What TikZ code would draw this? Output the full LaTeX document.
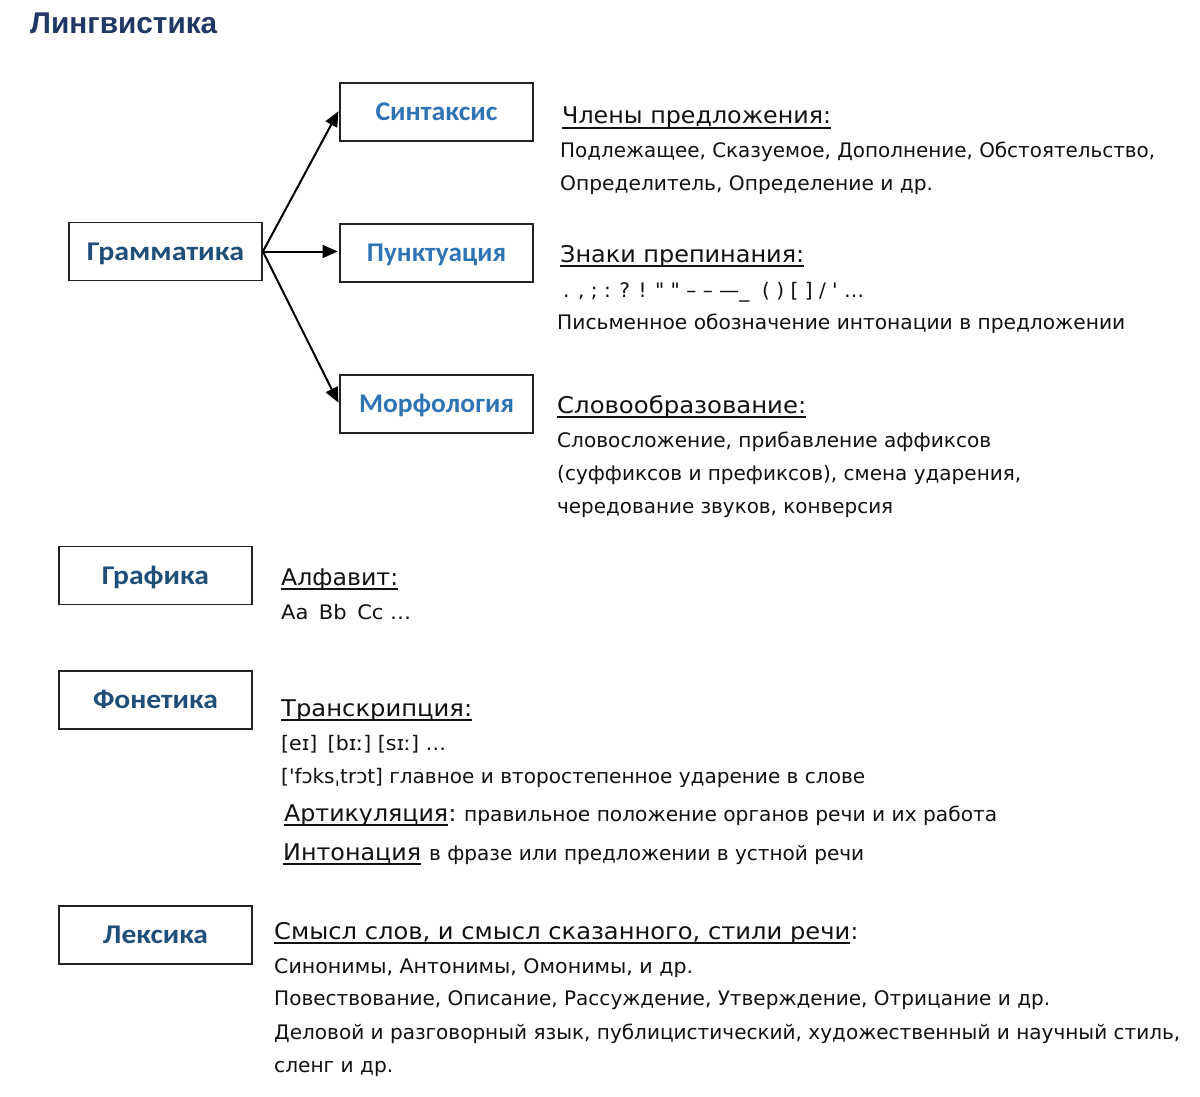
\documentclass[tikz,border=0pt]{standalone}
\usepackage{fontspec}
\usepackage{graphicx}
\setmainfont{DejaVu Sans}
\newfontfamily\bodyfont{DejaVu Sans}
\newfontfamily\boxfont{Carlito}
\newfontfamily\titlefont{Liberation Sans}
\usetikzlibrary{arrows.meta}
\definecolor{titlec}{HTML}{1F3864}
\definecolor{navyc}{HTML}{1F4E79}
\definecolor{lbluec}{HTML}{2E74B5}
\definecolor{txtc}{HTML}{111111}
\definecolor{boxc}{HTML}{222222}
\newcommand\fitw[2]{\resizebox{#1pt}{\height}{#2}}
\tikzset{
  txt/.style={anchor=base west, inner sep=0pt, text=txtc, font=\bodyfont\fontsize{20}{24}\selectfont},
  head/.style={txt, font=\bodyfont\fontsize{23}{27}\selectfont},
  ul/.style={line width=1.3pt, draw=txtc},
  box/.style={draw=boxc, line width=1.8pt, minimum width=193pt, minimum height=58pt, inner sep=0pt, text height=17pt, text depth=0pt, font=\boxfont\bfseries\fontsize{27}{30}\selectfont},
  navy/.style={box, text=navyc},
  lblue/.style={box, text=lbluec},
  arr/.style={-{Triangle[length=15pt,width=13pt]}, line width=2pt, draw=black, shorten >=1.5pt}
}
\begin{document}
\begin{tikzpicture}[x=1pt,y=-1pt]
\useasboundingbox[fill=white] (0,0) rectangle (1200,1097);
% title
\node[anchor=base west, inner sep=0pt, text=titlec, font=\titlefont\bfseries\fontsize{30}{34}\selectfont] (title) at (30,34) {\fitw{187}{Лингвистика}};
% boxes
\node[navy] (gram) at (165.5,251.5) {\fitw{157}{Грамматика}};
\node[lblue] (sint) at (436.5,112) {\fitw{122}{Синтаксис}};
\node[lblue] (punkt) at (436.5,253) {\fitw{139}{Пунктуация}};
\node[lblue] (morph) at (436.5,404) {\fitw{155}{Морфология}};
\node[navy] (graf) at (155.5,575.5) {\fitw{107}{Графика}};
\node[navy] (fon) at (155.5,700) {\fitw{125}{Фонетика}};
\node[navy] (leks) at (155.5,935) {\fitw{105}{Лексика}};
% arrows
\draw[arr] (gram.east) -- ([yshift=2pt]sint.west);
\draw[arr] (gram.east) -- (gram.east -| punkt.west);
\draw[arr] (gram.east) -- (morph.west);
% Syntax
\node[head] (h1) at (562,124) {\fitw{269}{Члены предложения:}};
\draw[ul] ([yshift=-4pt]h1.base west) -- ([yshift=-4pt]h1.base east);
\node[txt] (b1) at (560,158) {\fitw{595}{Подлежащее, Сказуемое, Дополнение, Обстоятельство,}};
\node[txt] (b2) at (560,190) {\fitw{373}{Определитель, Определение и др.}};
% Punctuation
\node[head] (h2) at (560,262) {\fitw{244}{Знаки препинания:}};
\draw[ul] ([yshift=-4pt]h2.base west) -- ([yshift=-4pt]h2.base east);
\node[txt] (b3) at (563,297) {\fitw{301}{. , ; : ? ! " " – – —\_\ \ ( ) [ ] / ' …}};
\node[txt] (b4) at (557,329) {\fitw{568}{Письменное обозначение интонации в предложении}};
% Morphology
\node[head] (h3) at (557,413) {\fitw{249}{Словообразование:}};
\draw[ul] ([yshift=-4pt]h3.base west) -- ([yshift=-4pt]h3.base east);
\node[txt] (b5) at (557,447) {\fitw{434}{Словосложение, прибавление аффиксов}};
\node[txt] (b6) at (557,480) {\fitw{464}{(суффиксов и префиксов), смена ударения,}};
\node[txt] (b7) at (557,513) {\fitw{336}{чередование звуков, конверсия}};
% Graphics
\node[head] (h4) at (281,585) {\fitw{117}{Алфавит:}};
\draw[ul] ([yshift=-4pt]h4.base west) -- ([yshift=-4pt]h4.base east);
\node[txt] (b8) at (281,619) {\fitw{130}{Aa\enspace Bb\enspace Cc …}};
% Phonetics
\node[head] (h5) at (281,716) {\fitw{191}{Транскрипция:}};
\draw[ul] ([yshift=-4pt]h5.base west) -- ([yshift=-4pt]h5.base east);
\node[txt] (b9) at (281,750) {\fitw{165}{[eɪ]\enspace [bɪː] [sɪː] …}};
\node[txt] (b10) at (281,783) {\fitw{584}{['fɔksˌtrɔt] главное и второстепенное ударение в слове}};
\node[head] (h6) at (284,821) {\fitw{164}{Артикуляция}};
\draw[ul] ([yshift=-4pt]h6.base west) -- ([yshift=-4pt]h6.base east);
\node[head] (h6c) at (h6.base east) {:};
\node[txt] (b11) at (464,821) {\fitw{533}{правильное положение органов речи и их работа}};
\node[head] (h7) at (283,860) {\fitw{138}{Интонация}};
\draw[ul] ([yshift=-4pt]h7.base west) -- ([yshift=-4pt]h7.base east);
\node[txt] (b12) at (429,860) {\fitw{435}{в фразе или предложении в устной речи}};
% Lexicology
\node[head] (h8) at (274,939) {\fitw{576}{Смысл слов, и смысл сказанного, стили речи}};
\draw[ul] ([yshift=-4pt]h8.base west) -- ([yshift=-4pt]h8.base east);
\node[head] (h8c) at (h8.base east) {:};
\node[txt] (b13) at (274,973) {\fitw{419}{Синонимы, Антонимы, Омонимы, и др.}};
\node[txt] (b14) at (274,1005) {\fitw{776}{Повествование, Описание, Рассуждение, Утверждение, Отрицание и др.}};
\node[txt] (b15) at (274,1039) {\fitw{906}{Деловой и разговорный язык, публицистический, художественный и научный стиль,}};
\node[txt] (b16) at (274,1072) {\fitw{119}{сленг и др.}};
\end{tikzpicture}
\end{document}
